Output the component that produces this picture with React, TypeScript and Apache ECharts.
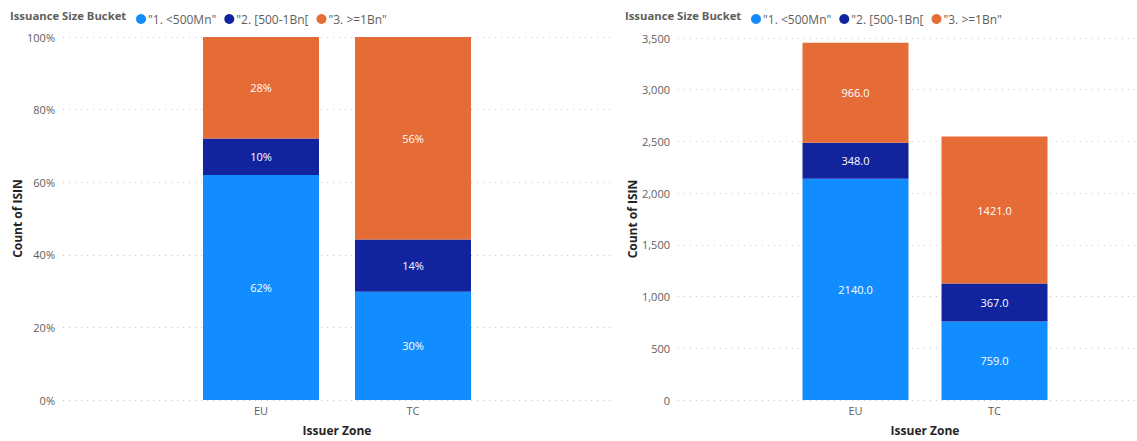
import React, { useEffect, useRef } from "react";
import * as echarts from "echarts";

const categories = ["EU", "TC"];
const seriesNames = ['"1. <500Mn"', '"2. [500-1Bn[', '"3. >=1Bn"'];
const smallCounts = [2140, 759];
const midCounts = [348, 367];
const largeCounts = [966, 1421];
const colors = ["#118DFF", "#12239E", "#E66C37"];
const percentTicks = [0, 20, 40, 60, 80, 100];

const FONT = "'Segoe UI', 'Open Sans', sans-serif";

export default function App() {
  const ref = useRef<HTMLDivElement>(null);
  useEffect(() => {
    document.body.style.margin = "0";
    if (!ref.current) return;
    const chart = echarts.init(ref.current, undefined, { renderer: "svg" });
    const counts = [smallCounts, midCounts, largeCounts];
    const totals = categories.map((_, i) => counts.reduce((s, arr) => s + arr[i], 0));
    const pcts = counts.map((arr) => arr.map((v, i) => (v / totals[i]) * 100));

    const gridLine = { show: true, lineStyle: { color: "#C8C6C4", type: [1, 5] as any, width: 1 } };
    const axisLabelStyle = { color: "#605E5C", fontSize: 11, fontFamily: FONT };
    const nameStyle = { color: "#252423", fontSize: 12, fontWeight: "bold" as const, fontFamily: FONT };

    const legendCommon = {
      icon: "circle",
      itemWidth: 10,
      itemHeight: 10,
      itemGap: 8,
      top: 8,
      data: seriesNames,
      textStyle: { color: "#605E5C", fontSize: 12, fontFamily: FONT, padding: [0, 0, 0, -3] },
    };

    const barSeries = (gridIdx: number, data: number[][], fmt: (v: number) => string, width: number) =>
      seriesNames.map((name, k) => ({
        name,
        type: "bar",
        stack: "s" + gridIdx,
        xAxisIndex: gridIdx,
        yAxisIndex: gridIdx,
        barWidth: width,
        itemStyle: { color: colors[k] },
        label: {
          show: true,
          position: "inside",
          color: "#FFFFFF",
          fontSize: 11,
          fontFamily: FONT,
          formatter: (p: any) => fmt(p.value),
        },
        data: data[k],
      }));

    const g = (o: any) => ({ ...o, outerBoundsMode: "none", containLabel: false });

    chart.setOption({
      animation: false,
      color: colors,
      title: [
        { text: "Issuance Size Bucket", left: 5, top: 5, textStyle: { ...nameStyle, fontSize: 11.3, color: "#605E5C" } },
        { text: "Issuance Size Bucket", left: 620, top: 5, textStyle: { ...nameStyle, fontSize: 11.3, color: "#605E5C" } },
      ],
      legend: [
        { ...legendCommon, left: 131 },
        { ...legendCommon, left: 746 },
      ],
      grid: [
        g({ left: 63, width: 550, top: 37, height: 363 }),
        g({ left: 185, width: 304, top: 37, height: 363 }),
        g({ left: 678, width: 459, top: 38, height: 362 }),
        g({ left: 786, width: 278, top: 38, height: 362 }),
      ],
      xAxis: [
        { gridIndex: 0, type: "category", data: categories, show: false },
        {
          gridIndex: 1,
          type: "category",
          data: categories,
          axisLine: { show: false },
          axisTick: { show: false },
          axisLabel: { ...axisLabelStyle, margin: 5 },
          name: "Issuer Zone",
          nameLocation: "middle",
          nameGap: 24,
          nameTextStyle: nameStyle,
        },
        { gridIndex: 2, type: "category", data: categories, show: false },
        {
          gridIndex: 3,
          type: "category",
          data: categories,
          axisLine: { show: false },
          axisTick: { show: false },
          axisLabel: { ...axisLabelStyle, margin: 5 },
          name: "Issuer Zone",
          nameLocation: "middle",
          nameGap: 24,
          nameTextStyle: nameStyle,
        },
      ],
      yAxis: [
        {
          gridIndex: 0,
          type: "value",
          min: percentTicks[0],
          max: percentTicks[percentTicks.length - 1],
          interval: 20,
          axisLabel: { ...axisLabelStyle, margin: 8, formatter: "{value}%" },
          axisLine: { show: false },
          axisTick: { show: false },
          splitLine: gridLine,
          name: "Count of ISIN",
          nameLocation: "middle",
          nameGap: 40,
          nameTextStyle: nameStyle,
        },
        { gridIndex: 1, type: "value", min: 0, max: 100, show: false, splitLine: { show: false } },
        {
          gridIndex: 2,
          type: "value",
          min: 0,
          max: 3500,
          interval: 500,
          axisLabel: { ...axisLabelStyle, margin: 8, formatter: (v: number) => v.toLocaleString("en-US") },
          axisLine: { show: false },
          axisTick: { show: false },
          splitLine: gridLine,
          name: "Count of ISIN",
          nameLocation: "middle",
          nameGap: 40,
          nameTextStyle: nameStyle,
        },
        { gridIndex: 3, type: "value", min: 0, max: 3500, show: false, splitLine: { show: false } },
      ],
      series: [
        ...barSeries(1, pcts, (v) => Math.round(v) + "%", 116),
        ...barSeries(3, counts, (v) => v.toFixed(1), 106),
      ],
    });
    return () => chart.dispose();
  }, []);
  return <div ref={ref} style={{ width: 1137, height: 441 }} />;
}
